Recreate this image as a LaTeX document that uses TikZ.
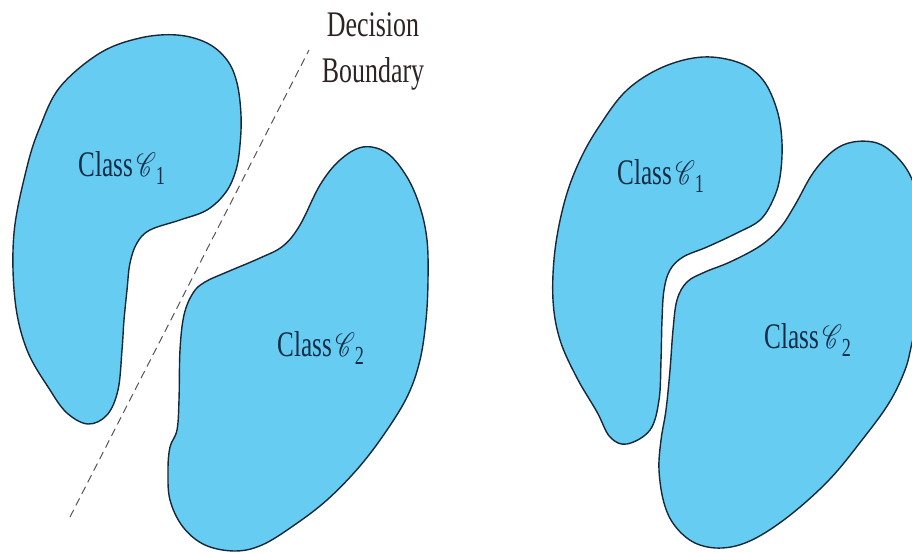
\documentclass[tikz,border=0pt]{standalone}
\usepackage{fontspec}
\usepackage{mathrsfs}
\setmainfont{Liberation Serif}
\definecolor{blobfill}{RGB}{102,204,242}
\definecolor{blobline}{RGB}{25,40,55}
\definecolor{clstext}{RGB}{20,45,70}
\definecolor{dectext}{RGB}{45,35,35}
\definecolor{dashcol}{RGB}{85,85,85}
\newcommand{\clslabel}[1]{\scalebox{0.7}[1]{Class\hspace{5pt}\scalebox{1.35}{$\mathscr{C}$}\raisebox{-8pt}{\fontsize{26}{26}\selectfont #1}}}
\tikzset{
  blob/.style={fill=blobfill, draw=blobline, line width=1.4pt},
  clsnode/.style={anchor=base west, inner sep=0pt, text=clstext, font=\fontsize{36}{46}\selectfont},
  decnode/.style={inner sep=0pt, text=dectext, align=center, font=\fontsize{36}{46}\selectfont},
  boundary/.style={draw=dashcol, line width=1pt, dash pattern=on 8pt off 5pt}
}
\begin{document}
\begin{tikzpicture}[x=1pt,y=-1pt]
\useasboundingbox (0,0) rectangle (912,553);
\clip (0,0) rectangle (912,553);
% left: class 1
\draw[blob] plot[smooth cycle, tension=0.6] coordinates {
(177,35) (207,43) (227,60) (237,83) (241,115) (240,145) (236,170) (226,192)
(207,210) (180,220) (150,230) (137,243) (130,263) (127,290) (124,320) (122,350)
(118,390) (107,415) (88,424) (67,413) (50,390) (27,350) (15,300) (14,233)
(27,167) (40,127) (60,87) (100,53) (140,38)};
% left: class 2
\draw[blob] plot[smooth cycle, tension=0.6] coordinates {
(363,147) (387,153) (407,177) (420,207) (427,240) (428,280) (426,320) (420,360)
(408,395) (387,430) (360,466) (327,500) (293,526) (262,545) (235,551) (205,545)
(183,527) (170,500) (168,470) (170,447) (177,430) (179,400) (180,350) (184,315)
(193,293) (205,282) (227,272) (260,258) (283,246) (300,225) (320,185) (340,160)};
% right: class 1
\draw[blob] plot[smooth cycle, tension=0.6] coordinates {
(703,57) (740,63) (763,80) (777,110) (782,143) (780,177) (773,200) (760,220)
(737,233) (707,247) (683,257) (670,270) (664,290) (662,320) (661,360) (659,400)
(650,430) (627,444) (610,437) (597,412) (577,378) (560,340) (553,300) (555,250)
(565,200) (580,160) (600,125) (627,90) (663,67)};
% right: class 2
\draw[blob] plot[smooth cycle, tension=0.6] coordinates {
(853,142) (877,143) (895,155) (910,175) (920,205) (926,250) (922,300) (912,343)
(905,370) (889,403) (862,440) (829,480) (789,516) (752,540) (722,548) (695,543)
(675,526) (664,503) (659,470) (661,440) (666,410) (670,370) (673,330) (677,300)
(687,282) (705,272) (730,262) (760,246) (780,228) (795,205) (813,173) (833,151)};
% decision boundary
\coordinate (db1) at (70,517);
\coordinate (db2) at (309,50);
\draw[boundary] (db1) -- (db2);
% labels
\node[clsnode] (lc1) at (78,177) {\clslabel{1}};
\node[clsnode] (lc2) at (277,356) {\clslabel{2}};
\node[clsnode] (rc1) at (617,185) {\clslabel{1}};
\node[clsnode] (rc2) at (764,348) {\clslabel{2}};
\node[decnode, anchor=base] (dec) at (373,83) {\scalebox{0.72}[1]{Decision}\\\scalebox{0.72}[1]{Boundary}};
\end{tikzpicture}
\end{document}
